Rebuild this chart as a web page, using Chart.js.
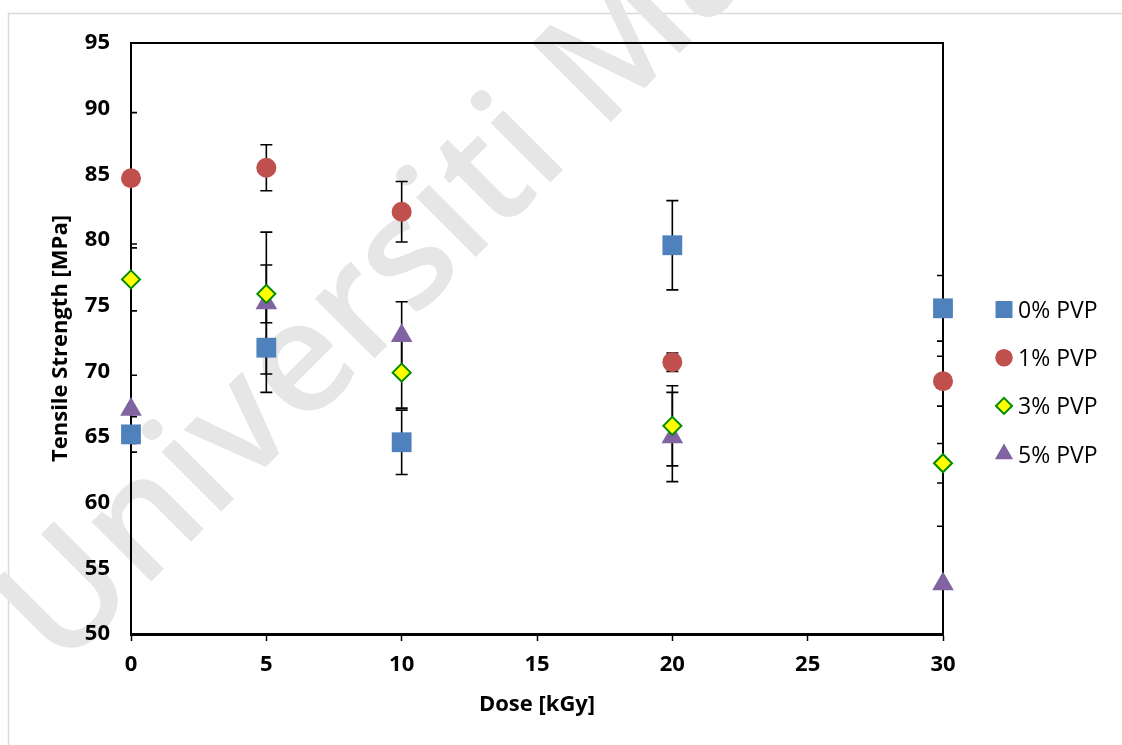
<!DOCTYPE html>
<html><head><meta charset="utf-8">
<script src="https://cdn.jsdelivr.net/npm/chart.js@4.4.1/dist/chart.umd.min.js"></script>
<style>html,body{margin:0;padding:0;background:#fff;overflow:hidden}</style>
</head><body>
<canvas id="c" width="1122" height="745"></canvas>
<script>
// ---- data ----
const doses = [0, 5, 10, 20, 30];
const seriesNames = ['0% PVP', '1% PVP', '3% PVP', '5% PVP'];
const pvp0 = [65.2, 71.8, 64.6, 79.6, 74.8];
const err0 = [1.35, 3.4, 2.45, 3.4, 2.5];
const pvp1 = [84.7, 85.5, 82.15, 70.7, 69.25];
const err1 = [5.0, 1.75, 2.3, 0.7, 1.9];
const pvp3 = [77.0, 75.9, 69.9, 65.85, 63.0];
const err3 = [2.4, 2.2, 2.7, 3.05, 1.5];
const pvp5 = [67.1, 75.2, 72.7, 65.0, 53.8];
const err5 = [2.6, 5.4, 2.6, 3.4, 4.4];
const yTicks = [50, 55, 60, 65, 70, 75, 80, 85, 90, 95];
const xTicks = [0, 5, 10, 15, 20, 25, 30];
const xTitle = 'Dose [kGy]';
const yTitle = 'Tensile Strength [MPa]';
const watermarkText = 'Universiti Malaya';

const allValues = [pvp0, pvp1, pvp3, pvp5];
const allErrors = [err0, err1, err3, err5];
const styles = [
  {pointStyle: 'rect', radius: 14, bg: '#4F81BD', border: '#4F81BD', bw: 0, legendR: 12},
  {pointStyle: 'circle', radius: 10, bg: '#C0504D', border: '#C0504D', bw: 0, legendR: 8.8},
  {pointStyle: 'rectRot', radius: 9, bg: '#FFFF00', border: '#008A00', bw: 2, legendR: 8},
  {pointStyle: 'triangle', radius: 12.5, bg: '#8064A2', border: '#8064A2', bw: 0, legendR: 10.5}
];

const FONT = '"Open Sans", "DejaVu Sans", sans-serif';

const datasets = allValues.map((vals, s) => ({
  label: seriesNames[s],
  data: doses.map((d, i) => ({x: d, y: vals[i]})),
  showLine: false,
  pointStyle: styles[s].pointStyle,
  pointRadius: styles[s].radius,
  pointHoverRadius: styles[s].radius,
  backgroundColor: styles[s].bg,
  borderColor: styles[s].border,
  borderWidth: styles[s].bw,
  clip: false
}));

const backgroundPlugin = {
  id: 'bgframe',
  beforeDraw(chart) {
    const ctx = chart.ctx;
    ctx.save();
    ctx.fillStyle = '#fff';
    ctx.fillRect(0, 0, chart.width, chart.height);
    // outer light frame
    ctx.strokeStyle = '#D9D9D9';
    ctx.lineWidth = 1.5;
    ctx.beginPath();
    ctx.moveTo(8.5, chart.height + 5);
    ctx.lineTo(8.5, 13.5);
    ctx.lineTo(chart.width + 5, 13.5);
    ctx.stroke();
    // watermark
    ctx.font = '600 100px ' + FONT;
    const wU = ctx.measureText('U').width;
    const wM = ctx.measureText('M').width;
    const wPre = ctx.measureText('Universiti ').width;
    const D100 = wPre + wM / 2 - wU / 2;
    const ux = 62, uy = 592, mx = 612, my = 42;
    const dist = Math.hypot(mx - ux, my - uy);
    const F = dist / (D100 / 100);
    const ang = Math.atan2(my - uy, mx - ux);
    ctx.font = '600 ' + F + 'px ' + FONT;
    const uCx = wU * F / 200, uCy = -0.357 * F;
    ctx.translate(ux, uy);
    ctx.rotate(ang);
    ctx.fillStyle = '#E6E6E6';
    ctx.textBaseline = 'alphabetic';
    ctx.fillText(watermarkText, -uCx, -uCy);
    ctx.restore();
  }
};

const frameAndErrors = {
  id: 'errbars',
  beforeDatasetsDraw(chart) {
    const {ctx, chartArea: a, scales: {x, y}} = chart;
    ctx.save();
    // top & right plot border
    ctx.strokeStyle = '#000';
    ctx.lineWidth = 2;
    ctx.beginPath();
    ctx.moveTo(a.left, a.top);
    ctx.lineTo(a.right, a.top);
    ctx.lineTo(a.right, a.bottom);
    ctx.stroke();
    // error bars clipped to plot area
    ctx.beginPath();
    ctx.rect(a.left, a.top, a.right - a.left, a.bottom - a.top);
    ctx.clip();
    ctx.lineWidth = 1.6;
    allValues.forEach((vals, sI) => {
      vals.forEach((v, i) => {
        const e = allErrors[sI][i];
        const px = x.getPixelForValue(doses[i]);
        const y1 = y.getPixelForValue(v + e);
        const y2 = y.getPixelForValue(v - e);
        ctx.beginPath();
        ctx.moveTo(px, y1); ctx.lineTo(px, y2);
        ctx.moveTo(px - 6, y1); ctx.lineTo(px + 6, y1);
        ctx.moveTo(px - 6, y2); ctx.lineTo(px + 6, y2);
        ctx.stroke();
      });
    });
    ctx.restore();
  }
};

const legendPlugin = {
  id: 'customLegend',
  afterDraw(chart) {
    const ctx = chart.ctx;
    ctx.save();
    const x0 = 1004, y0 = 309.5, gap = 48.2;
    styles.forEach((st, i) => {
      const cy = y0 + i * gap;
      ctx.fillStyle = st.bg;
      ctx.strokeStyle = st.border;
      ctx.lineWidth = st.bw;
      Chart.helpers.drawPoint(ctx, {pointStyle: st.pointStyle, radius: st.legendR, borderWidth: st.bw, rotation: 0}, x0, cy);
      ctx.fillStyle = '#000';
      ctx.font = '23px ' + FONT;
      ctx.textBaseline = 'alphabetic';
      ctx.textAlign = 'left';
      ctx.fillText(seriesNames[i], 1018, cy + 8.5);
    });
    ctx.restore();
  }
};

new Chart(document.getElementById('c'), {
  type: 'scatter',
  data: {datasets},
  options: {
    responsive: false,
    devicePixelRatio: 1,
    animation: false,
    events: [],
    layout: {padding: {left: 0, right: 179, top: 43, bottom: 0}},
    plugins: {legend: {display: false}, tooltip: {enabled: false}},
    scales: {
      x: {
        type: 'linear', min: xTicks[0], max: xTicks[xTicks.length - 1],
        afterBuildTicks: s => { s.ticks = xTicks.map(v => ({value: v})); },
        afterFit: s => { s.height = 111; },
        ticks: {color: '#000', font: {family: FONT, size: 22, weight: 'bold'}, padding: 11, maxRotation: 0},
        grid: {display: true, drawOnChartArea: false, drawTicks: true, tickLength: 7, tickColor: '#000', tickWidth: 1.5},
        border: {display: true, color: '#000', width: 3},
        title: {display: true, text: xTitle, color: '#000', font: {family: FONT, size: 22, weight: 'bold'}, padding: {top: 0, bottom: 27}}
      },
      y: {
        type: 'linear', min: yTicks[0], max: yTicks[yTicks.length - 1],
        afterBuildTicks: s => { s.ticks = yTicks.map(v => ({value: v})); },
        afterFit: s => { s.width = 131; },
        ticks: {color: '#000', font: {family: FONT, size: 22, weight: 'bold'}, padding: 21},
        grid: {display: false, drawTicks: false},
        border: {display: true, color: '#000', width: 2},
        title: {display: true, text: yTitle, color: '#000', font: {family: FONT, size: 22, weight: 'bold'}, padding: {top: 48, bottom: 0}}
      }
    }
  },
  plugins: [backgroundPlugin, frameAndErrors, legendPlugin]
});
</script>
</body></html>
